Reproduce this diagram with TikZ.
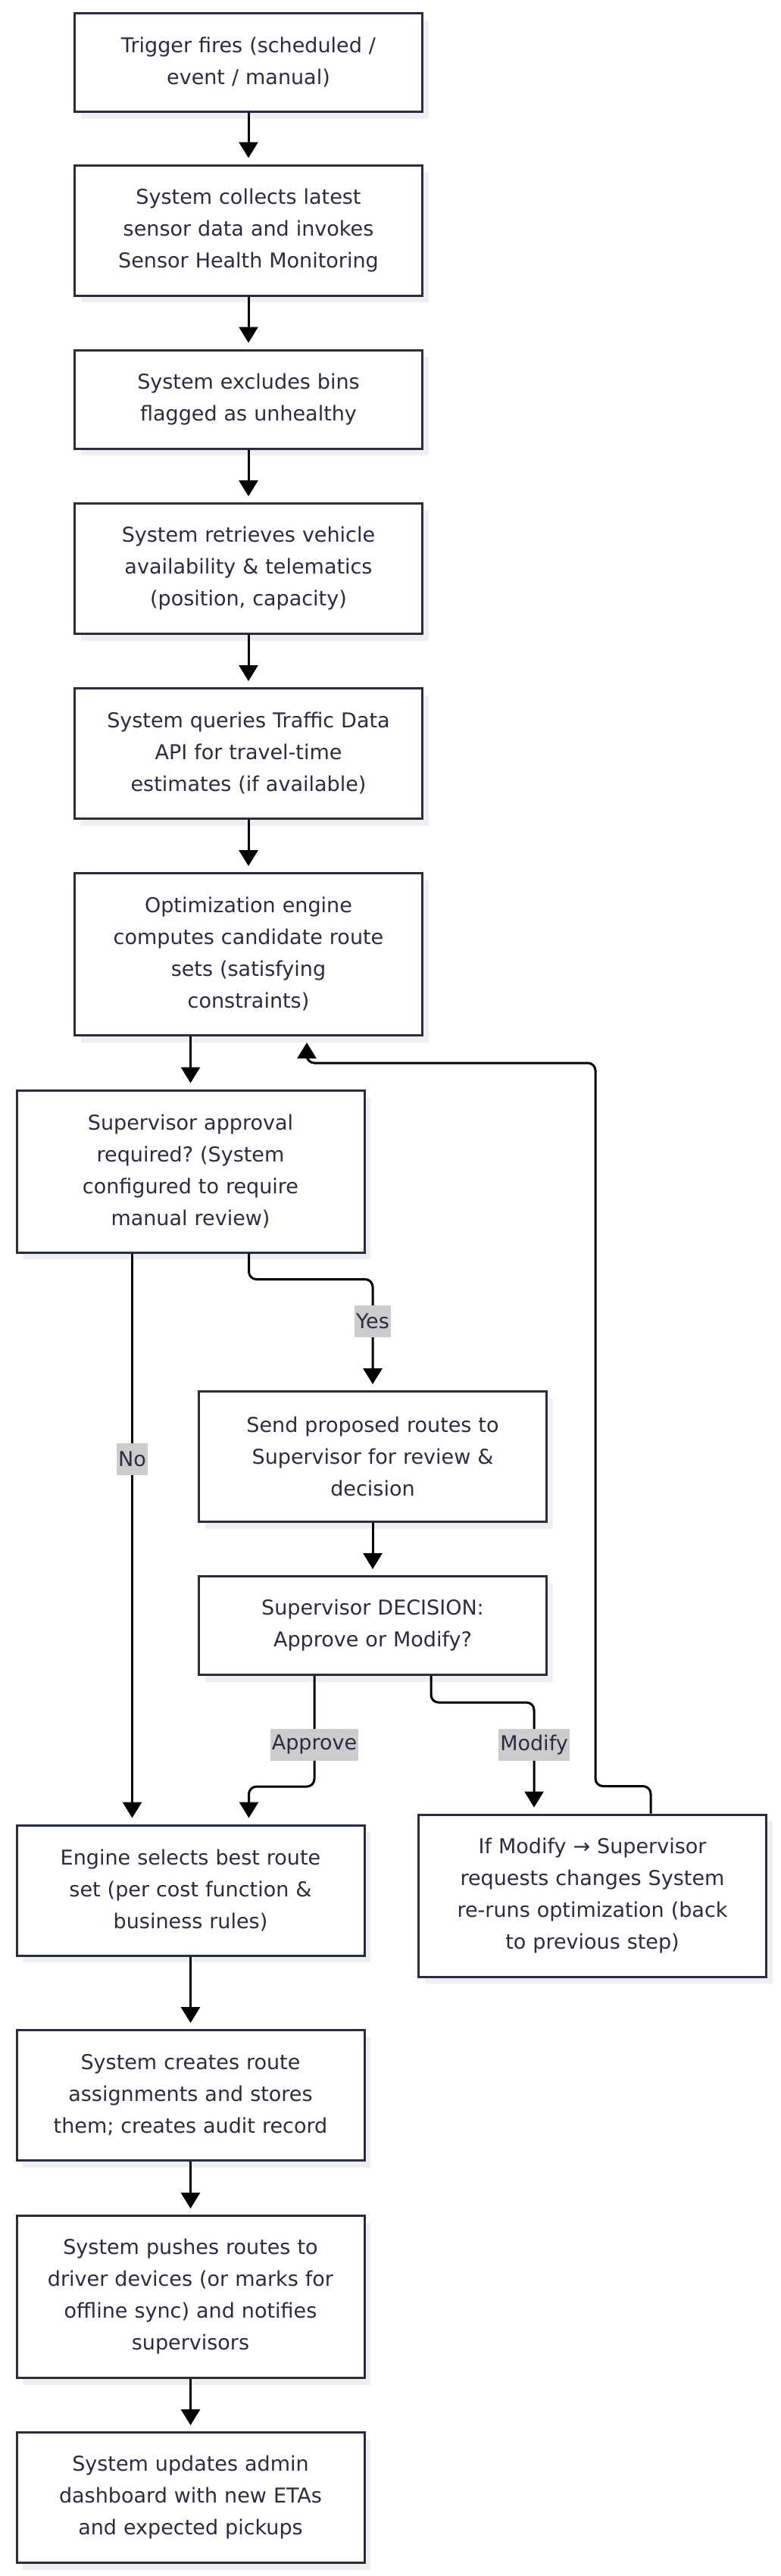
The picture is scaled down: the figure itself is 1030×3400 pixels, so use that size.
\documentclass[tikz,border=0pt]{standalone}
\usepackage{fontspec}
\setmainfont{DejaVu Sans}
\newfontfamily\symfont{DejaVu Sans}
\usetikzlibrary{arrows.meta,shadows}
\definecolor{ink}{RGB}{43,43,66}
\definecolor{shade}{RGB}{239,239,239}
\definecolor{tagfill}{RGB}{204,204,204}
\frenchspacing

\begin{document}
\begin{tikzpicture}[x=0.5pt,y=-0.5pt,font=\fontsize{13.5pt}{21pt}\selectfont,
 stepbox/.style={draw=ink,line width=1.5pt,fill=white,text=ink,align=center,text width=215pt,
   minimum width=229.5pt,minimum height={21pt*#1+23pt},
   drop shadow={shadow xshift=4pt,shadow yshift=-4.5pt,fill=shade,opacity=1}},
 flow/.style={-{Triangle[width=12.5pt,length=10.5pt]},line width=1.5pt,shorten >=4pt,rounded corners=5pt},
 tag/.style={sharp corners,fill=tagfill,text=ink,inner xsep=1pt,inner ysep=0pt,minimum height=21pt}]
\useasboundingbox (0,0) rectangle (1030,3400);
% main column
\node[stepbox=2] (trig) at (328,82.5) {Trigger fires (scheduled /\\event / manual)};
\node[stepbox=3] (coll) at (328,304) {System collects latest\\sensor data and invokes\\Sensor Health Monitoring};
\node[stepbox=2] (excl) at (328,527) {System excludes bins\\flagged as unhealthy};
\node[stepbox=3] (veh) at (328,750.5) {System retrieves vehicle\\availability \& telematics\\(position, capacity)};
\node[stepbox=3] (traf) at (328,994.5) {System queries Traffic Data\\API for travel-time\\estimates (if available)};
\node[stepbox=4] (opt) at (328,1259.5) {Optimization engine\\computes candidate route\\sets (satisfying\\constraints)};
\node[stepbox=4] (appr) at (251.5,1546) {Supervisor approval\\required? (System\\configured to require\\manual review)};
% review branch
\node[stepbox=3] (send) at (492,1922.5) {Send proposed routes to\\Supervisor for review \&\\decision};
\node[stepbox=2] (dec) at (492,2145.5) {Supervisor DECISION:\\Approve or Modify?};
\node[stepbox=4] (mod) at (782,2502) {If Modify {\symfont →} Supervisor\\requests changes System\\re-runs optimization (back\\to previous step)};
% final steps
\node[stepbox=3] (eng) at (251.5,2495) {Engine selects best route\\set (per cost function \&\\business rules)};
\node[stepbox=3] (asg) at (251.5,2765.5) {System creates route\\assignments and stores\\them; creates audit record};
\node[stepbox=4] (push) at (251.5,3031.5) {System pushes routes to\\driver devices (or marks for\\offline sync) and notifies\\supervisors};
\node[stepbox=3] (dash) at (251.5,3296.5) {System updates admin\\dashboard with new ETAs\\and expected pickups};
\coordinate (loopx) at (786,1403);
% connectors
\draw[flow] (trig.south) -- (coll.north);
\draw[flow] (coll.south) -- (excl.north);
\draw[flow] (excl.south) -- (veh.north);
\draw[flow] (veh.south) -- (traf.north);
\draw[flow] (traf.south) -- (opt.north);
\draw[flow] (opt.south -| appr.north) -- (appr.north);
\draw[flow] ([xshift=38.5pt]appr.south) -- ++(0,-17pt) -| node[tag,pos=0.69]{Yes} (send.north);
\draw[flow] ([xshift=-38.5pt]appr.south) -- node[tag,pos=0.36]{No} ([xshift=-38.5pt]eng.north);
\draw[flow] (send.south) -- (dec.north);
\draw[flow] ([xshift=-38.5pt]dec.south) -- node[tag,pos=0.62]{Approve} ++(0,-73pt) -| ([xshift=38.5pt]eng.north);
\draw[flow] ([xshift=38.5pt]dec.south) -- ++(0,-17.5pt) -| node[tag,pos=0.69]{Modify} ([xshift=-38.5pt]mod.north);
\draw[flow] ([xshift=38.5pt]mod.north) -- ++(0,18pt) -| (loopx) -| ([xshift=38.5pt]opt.south);
\draw[flow] (eng.south) -- (asg.north);
\draw[flow] (asg.south) -- (push.north);
\draw[flow] (push.south) -- (dash.north);
\end{tikzpicture}
\end{document}
